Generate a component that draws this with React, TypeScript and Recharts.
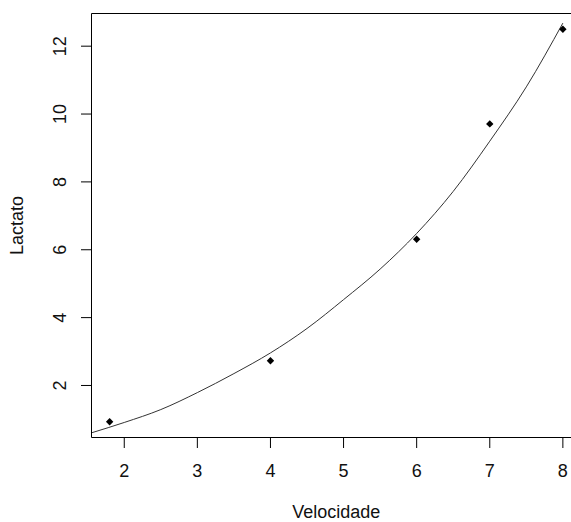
import React from 'react';
import { ComposedChart, Line, Scatter, XAxis, YAxis, ReferenceArea } from 'recharts';

// observed points (Velocidade, Lactato)
const velocidade = [1.8, 4, 6, 7, 8];
const lactato = [0.93, 2.73, 6.31, 9.71, 12.5];

// fitted curve
const curveX = [1.56, 2.0, 2.5, 3.0, 3.5, 4.0, 4.5, 5.0, 5.5, 6.0, 6.5, 7.0, 7.5, 8.0];
const curveY = [0.61, 0.91, 1.29, 1.79, 2.35, 2.96, 3.68, 4.53, 5.43, 6.48, 7.72, 9.2, 10.8, 12.68];

const xTicks = [2, 3, 4, 5, 6, 7, 8];
const yTicks = [2, 4, 6, 8, 10, 12];

const xDomain = [1.552, 8.248];
const yDomain = [0.467, 12.963];

const points = velocidade.map((v, i) => ({ x: v, y: lactato[i] }));
const curve = curveX.map((v, i) => ({ x: v, y: curveY[i] }));

const FONT = 'Arial, "Liberation Sans", sans-serif';
const TXT = '#111';
const FS = 18;

const Diamond = (props: any) => {
  const { cx, cy } = props;
  const r = 3.7;
  return (
    <path
      d={`M${cx},${cy - r}L${cx + r},${cy}L${cx},${cy + r}L${cx - r},${cy}Z`}
      fill="#000"
    />
  );
};

const YTick = (props: any) => {
  const { x, y, payload } = props;
  return (
    <text
      x={x}
      y={y}
      transform={`rotate(-90, ${x}, ${y})`}
      textAnchor="middle"
      fontSize={FS}
      fontFamily={FONT}
      fill={TXT}
    >
      {payload.value}
    </text>
  );
};

export default function App() {
  return (
    <div
      style={{
        position: 'fixed',
        left: 0,
        top: 0,
        width: 571,
        height: 522,
        overflow: 'hidden',
        background: '#fff',
      }}
    >
      <ComposedChart
        width={600}
        height={522}
        margin={{ top: 13.5, right: 19, bottom: 0, left: 0 }}
      >
        <XAxis
          type="number"
          dataKey="x"
          domain={xDomain}
          ticks={xTicks}
          allowDataOverflow
          height={84.5}
          axisLine={false}
          tickLine={{ stroke: '#000', strokeWidth: 1 }}
          tickSize={10.5}
          tickMargin={16.5}
          tick={{ fontSize: FS, fontFamily: FONT, fill: TXT }}
          label={(p: any) => {
            const vb = p.viewBox;
            return (
              <text
                x={vb.x + vb.width / 2}
                y={517.5}
                textAnchor="middle"
                fontSize={FS}
                fontFamily={FONT}
                fill={TXT}
              >
                Velocidade
              </text>
            );
          }}
        />
        <YAxis
          type="number"
          dataKey="y"
          domain={yDomain}
          ticks={yTicks}
          allowDataOverflow
          width={91.5}
          axisLine={false}
          tickLine={{ stroke: '#000', strokeWidth: 1 }}
          tickSize={10.5}
          tickMargin={14.5}
          tick={<YTick />}
          label={(p: any) => {
            const vb = p.viewBox;
            const cy = vb.y + vb.height / 2;
            return (
              <text
                x={22.5}
                y={cy}
                transform={`rotate(-90, 22.5, ${cy})`}
                textAnchor="middle"
                fontSize={FS}
                fontFamily={FONT}
                fill={TXT}
              >
                Lactato
              </text>
            );
          }}
        />
        <ReferenceArea
          x1={xDomain[0]}
          x2={xDomain[1]}
          y1={yDomain[0]}
          y2={yDomain[1]}
          fill="none"
          stroke="#000"
          strokeWidth={1}
          ifOverflow="visible"
        />
        <Line
          data={curve}
          dataKey="y"
          type="monotone"
          stroke="#333"
          strokeWidth={1}
          dot={false}
          isAnimationActive={false}
        />
        <Scatter
          data={points}
          dataKey="y"
          shape={<Diamond />}
          isAnimationActive={false}
        />
      </ComposedChart>
    </div>
  );
}
